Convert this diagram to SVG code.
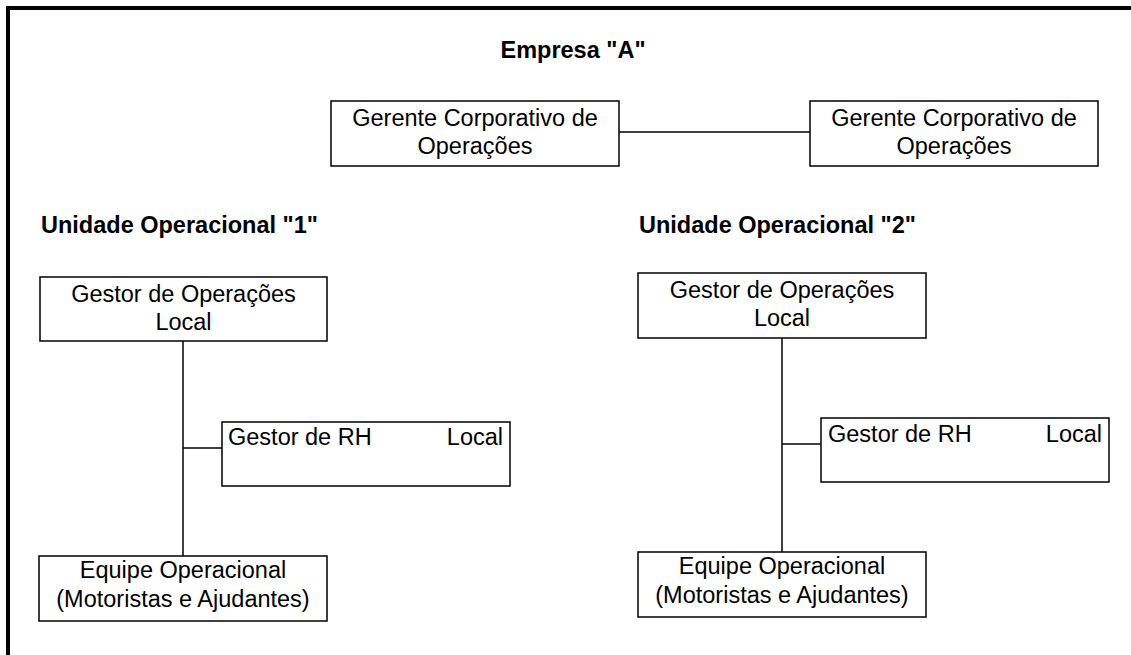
<svg xmlns="http://www.w3.org/2000/svg" width="1131" height="655" viewBox="0 0 1131 655">
<style>
.box{fill:#fff;stroke:#000;stroke-width:1.5}
.t{font-family:"Liberation Sans",Arial,sans-serif;font-size:23.5px;fill:#000}
.c{text-anchor:middle}
.b{font-weight:bold}
.ln{stroke:#000;stroke-width:1.5;fill:none}
.frame{stroke:#000;stroke-width:4;fill:none}
</style>
<rect width="1131" height="655" fill="#fff"/>
<path class="frame" d="M8,655 V8 H1131"/>
<text class="t b c" x="573" y="58">Empresa "A"</text>
<text class="t b" x="41" y="233">Unidade Operacional "1"</text>
<text class="t b" x="639" y="233">Unidade Operacional "2"</text>
<g id="connectors">
<line class="ln" x1="619" y1="132" x2="810" y2="132"/>
<line class="ln" x1="183" y1="341" x2="183" y2="556"/>
<line class="ln" x1="183" y1="448" x2="222" y2="448"/>
<line class="ln" x1="782" y1="338" x2="782" y2="552"/>
<line class="ln" x1="782" y1="444" x2="821" y2="444"/>
</g>
<g id="gerente1">
<rect class="box" x="331" y="101" width="288" height="65"/>
<text class="t c" x="475" y="126">Gerente Corporativo de</text>
<text class="t c" x="475" y="154">Operações</text>
</g>
<g id="gerente2">
<rect class="box" x="810" y="101" width="288" height="65"/>
<text class="t c" x="954" y="126">Gerente Corporativo de</text>
<text class="t c" x="954" y="154">Operações</text>
</g>
<g id="gestor1">
<rect class="box" x="40" y="277" width="287" height="64"/>
<text class="t c" x="183.5" y="302">Gestor de Operações</text>
<text class="t c" x="183.5" y="330">Local</text>
</g>
<g id="rh1">
<rect class="box" x="222" y="422" width="288" height="64"/>
<text class="t" x="228" y="445">Gestor de RH</text>
<text class="t" x="503" y="445" text-anchor="end">Local</text>
</g>
<g id="equipe1">
<rect class="box" x="39" y="556" width="288" height="65"/>
<text class="t c" x="183" y="578">Equipe Operacional</text>
<text class="t c" x="183" y="607">(Motoristas e Ajudantes)</text>
</g>
<g id="gestor2">
<rect class="box" x="638" y="273" width="288" height="65"/>
<text class="t c" x="782" y="298">Gestor de Operações</text>
<text class="t c" x="782" y="326">Local</text>
</g>
<g id="rh2">
<rect class="box" x="821" y="418" width="288" height="64"/>
<text class="t" x="828" y="442">Gestor de RH</text>
<text class="t" x="1102" y="442" text-anchor="end">Local</text>
</g>
<g id="equipe2">
<rect class="box" x="638" y="552" width="288" height="65"/>
<text class="t c" x="782" y="574">Equipe Operacional</text>
<text class="t c" x="782" y="603">(Motoristas e Ajudantes)</text>
</g>
</svg>
